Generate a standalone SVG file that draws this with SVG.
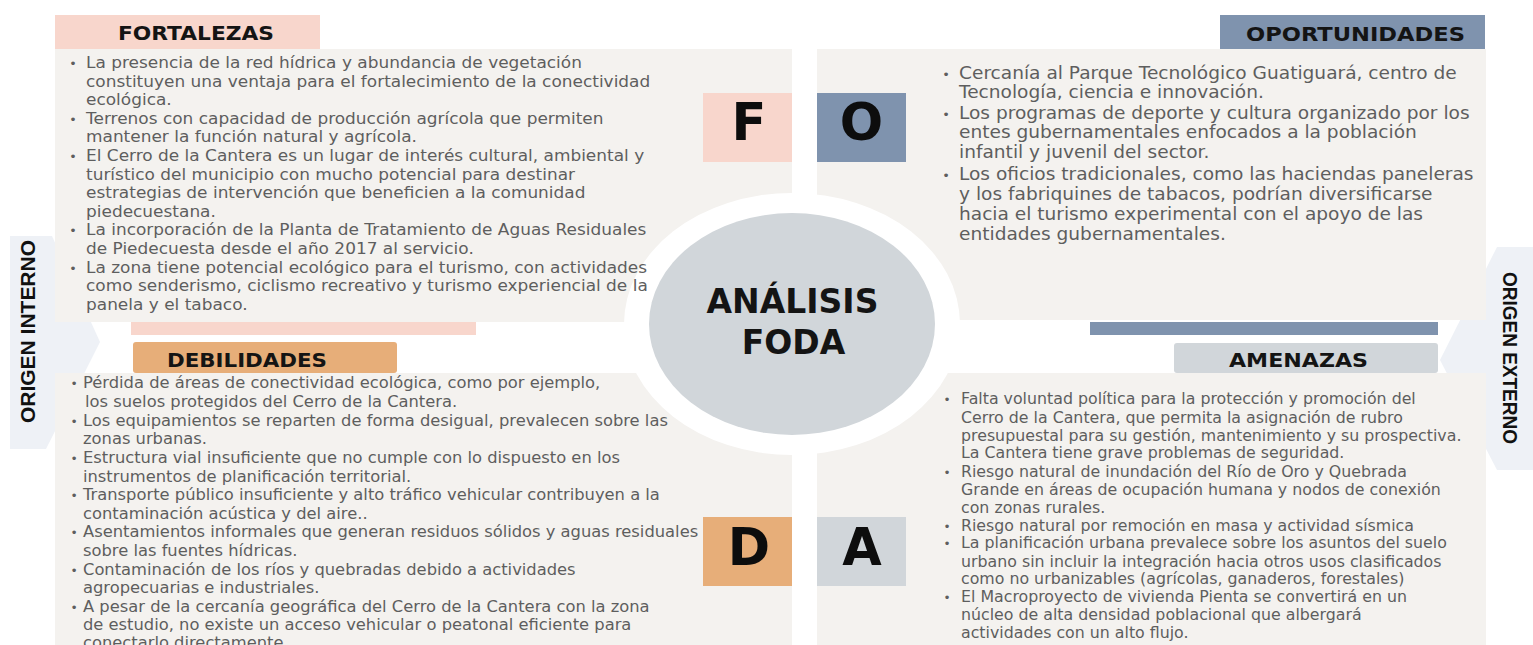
<svg xmlns="http://www.w3.org/2000/svg" width="1533" height="645" viewBox="0 0 1533 645">
  <style>
    .panel { fill: #f4f2ef; }
    .body { font-family: "DejaVu Sans", "Liberation Sans", sans-serif; fill: #5e5e5e; }
    .bul { font-size: 12px; text-anchor: middle; }
    .hdr { font-family: "DejaVu Sans", "Liberation Sans", sans-serif; font-weight: bold; font-size: 19px; fill: #141414; }
    .big { font-family: "DejaVu Sans", "Liberation Sans", sans-serif; font-weight: bold; font-size: 51px; fill: #0d0d0d; text-anchor: middle; }
    .title { font-family: "DejaVu Sans", "Liberation Sans", sans-serif; font-weight: bold; font-size: 33px; fill: #141414; text-anchor: middle; }
    .side { font-family: "Liberation Sans", Arial, sans-serif; font-weight: bold; font-size: 20.5px; fill: #111; text-anchor: middle; }
    .arrow { fill: #eef1f6; }
  </style>

  <rect width="1533" height="645" fill="#ffffff"/>

  <!-- side labels: internal / external origin -->
  <g id="origen-interno">
    <polygon class="arrow" points="10,236 52,236 100,342 46,449 10,449"/>
    <text class="side" transform="translate(35,331.5) rotate(-90)" textLength="183" lengthAdjust="spacingAndGlyphs">ORIGEN INTERNO</text>
  </g>
  <g id="origen-externo">
    <polygon class="arrow" points="1533,247 1497,247 1440,360 1497,470 1533,470"/>
    <text class="side" transform="translate(1503,358) rotate(90)" textLength="172" lengthAdjust="spacingAndGlyphs">ORIGEN EXTERNO</text>
  </g>

  <!-- quadrant backgrounds -->
  <g id="quadrant-panels">
    <rect class="panel" x="55" y="49" width="737" height="273"/>
    <rect class="panel" x="817" y="49" width="669" height="271"/>
    <rect class="panel" x="55" y="373" width="737" height="272"/>
    <rect class="panel" x="817" y="373" width="669" height="272"/>
    <rect x="131" y="322" width="345" height="13" fill="#f8d6cc"/>
    <rect x="1090" y="322" width="348" height="13" fill="#7f93ae"/>
  </g>

  <!-- centre hub -->
  <g id="analisis-foda">
    <ellipse cx="792" cy="324" rx="168" ry="131" fill="#ffffff"/>
    <ellipse cx="792" cy="324" rx="143" ry="111" fill="#d1d6da"/>
    <text class="title" x="792.5" y="313">ANÁLISIS</text>
    <text class="title" x="793.5" y="354">FODA</text>
  </g>

  <!-- F: strengths -->
  <g id="fortalezas">
    <rect x="55" y="15" width="265" height="34" fill="#f8d6cc"/>
    <text class="hdr" x="118" y="40" textLength="156" lengthAdjust="spacingAndGlyphs">FORTALEZAS</text>
    <rect x="703" y="93" width="89" height="69" fill="#f8d6cc"/>
    <text class="big" x="749" y="140">F</text>
    <g class="body" font-size="16" transform="translate(86,0) scale(1.06,1)">
      <text class="bul" x="-12.3" y="68">•</text>
      <text class="bul" x="-12.3" y="123.8">•</text>
      <text class="bul" x="-12.3" y="161">•</text>
      <text class="bul" x="-12.3" y="235.4">•</text>
      <text class="bul" x="-12.3" y="272.6">•</text>
      <text>
        <tspan x="0" y="68">La presencia de la red hídrica y abundancia de vegetación</tspan>
        <tspan x="0" y="86.6">constituyen una ventaja para el fortalecimiento de la conectividad</tspan>
        <tspan x="0" y="105.2">ecológica.</tspan>
        <tspan x="0" y="123.8">Terrenos con capacidad de producción agrícola que permiten</tspan>
        <tspan x="0" y="142.4">mantener la función natural y agrícola.</tspan>
        <tspan x="0" y="161">El Cerro de la Cantera es un lugar de interés cultural, ambiental y</tspan>
        <tspan x="0" y="179.6">turístico del municipio con mucho potencial para destinar</tspan>
        <tspan x="0" y="198.2">estrategias de intervención que beneficien a la comunidad</tspan>
        <tspan x="0" y="216.8">piedecuestana.</tspan>
        <tspan x="0" y="235.4">La incorporación de la Planta de Tratamiento de Aguas Residuales</tspan>
        <tspan x="0" y="254">de Piedecuesta desde el año 2017 al servicio.</tspan>
        <tspan x="0" y="272.6">La zona tiene potencial ecológico para el turismo, con actividades</tspan>
        <tspan x="0" y="291.2">como senderismo, ciclismo recreativo y turismo experiencial de la</tspan>
        <tspan x="0" y="309.8">panela y el tabaco.</tspan>
      </text>
    </g>
  </g>

  <!-- O: opportunities -->
  <g id="oportunidades">
    <rect x="1220" y="15" width="265" height="34" fill="#7f93ae"/>
    <text class="hdr" x="1246" y="41" textLength="219" lengthAdjust="spacingAndGlyphs">OPORTUNIDADES</text>
    <rect x="817" y="93" width="89" height="69" fill="#7f93ae"/>
    <text class="big" x="861.5" y="140">O</text>
    <g class="body" font-size="17.2" transform="translate(959,0) scale(1.08,1)">
      <text class="bul" x="-12" y="79.5">•</text>
      <text class="bul" x="-12" y="119.5">•</text>
      <text class="bul" x="-12" y="180.5">•</text>
      <text>
        <tspan x="0" y="79.5">Cercanía al Parque Tecnológico Guatiguará, centro de</tspan>
        <tspan x="0" y="98.5">Tecnología, ciencia e innovación.</tspan>
        <tspan x="0" y="119.5">Los programas de deporte y cultura organizado por los</tspan>
        <tspan x="0" y="138.5">entes gubernamentales enfocados a la población</tspan>
        <tspan x="0" y="158.5">infantil y juvenil del sector.</tspan>
        <tspan x="0" y="180.5">Los oficios tradicionales, como las haciendas paneleras</tspan>
        <tspan x="0" y="200.5">y los fabriquines de tabacos, podrían diversificarse</tspan>
        <tspan x="0" y="220.5">hacia el turismo experimental con el apoyo de las</tspan>
        <tspan x="0" y="240.5">entidades gubernamentales.</tspan>
      </text>
    </g>
  </g>

  <!-- D: weaknesses -->
  <g id="debilidades">
    <rect x="133" y="342" width="264" height="31" rx="3" fill="#e7ae79"/>
    <text class="hdr" x="167" y="367" textLength="160" lengthAdjust="spacingAndGlyphs">DEBILIDADES</text>
    <rect x="703" y="517" width="89" height="69" fill="#e7ae79"/>
    <text class="big" x="749" y="565">D</text>
    <g class="body" font-size="16" transform="translate(83,0) scale(1.02,1)">
      <text class="bul" x="-8.8" y="388">•</text>
      <text class="bul" x="-8.8" y="426">•</text>
      <text class="bul" x="-8.8" y="463">•</text>
      <text class="bul" x="-8.8" y="500">•</text>
      <text class="bul" x="-8.8" y="537">•</text>
      <text class="bul" x="-8.8" y="575">•</text>
      <text class="bul" x="-8.8" y="612">•</text>
      <text>
        <tspan x="0" y="388">Pérdida de áreas de conectividad ecológica, como por ejemplo,</tspan>
        <tspan x="2" y="407">los suelos protegidos del Cerro de la Cantera.</tspan>
        <tspan x="0" y="426">Los equipamientos se reparten de forma desigual, prevalecen sobre las</tspan>
        <tspan x="0" y="444">zonas urbanas.</tspan>
        <tspan x="0" y="463">Estructura vial insuficiente que no cumple con lo dispuesto en los</tspan>
        <tspan x="0" y="482">instrumentos de planificación territorial.</tspan>
        <tspan x="0" y="500">Transporte público insuficiente y alto tráfico vehicular contribuyen a la</tspan>
        <tspan x="0" y="519">contaminación acústica y del aire..</tspan>
        <tspan x="0" y="537">Asentamientos informales que generan residuos sólidos y aguas residuales</tspan>
        <tspan x="0" y="556">sobre las fuentes hídricas.</tspan>
        <tspan x="0" y="575">Contaminación de los ríos y quebradas debido a actividades</tspan>
        <tspan x="0" y="593">agropecuarias e industriales.</tspan>
        <tspan x="0" y="612">A pesar de la cercanía geográfica del Cerro de la Cantera con la zona</tspan>
        <tspan x="0" y="630">de estudio, no existe un acceso vehicular o peatonal eficiente para</tspan>
        <tspan x="0" y="648">conectarlo directamente.</tspan>
      </text>
    </g>
  </g>

  <!-- A: threats -->
  <g id="amenazas">
    <rect x="1174" y="343" width="264" height="30" rx="3" fill="#d1d6da"/>
    <text class="hdr" x="1229" y="367" textLength="139" lengthAdjust="spacingAndGlyphs">AMENAZAS</text>
    <rect x="817" y="517" width="89" height="69" fill="#d1d6da"/>
    <text class="big" x="862" y="565">A</text>
    <g class="body" font-size="15.8" transform="translate(961,0) scale(1.0,1)">
      <text class="bul" x="-14" y="404">•</text>
      <text class="bul" x="-14" y="477">•</text>
      <text class="bul" x="-14" y="531">•</text>
      <text class="bul" x="-14" y="548">•</text>
      <text class="bul" x="-14" y="602">•</text>
      <text>
        <tspan x="0" y="404">Falta voluntad política para la protección y promoción del</tspan>
        <tspan x="0" y="423">Cerro de la Cantera, que permita la asignación de rubro</tspan>
        <tspan x="0" y="441">presupuestal para su gestión, mantenimiento y su prospectiva.</tspan>
        <tspan x="0" y="458">La Cantera tiene grave problemas de seguridad.</tspan>
        <tspan x="0" y="477">Riesgo natural de inundación del Río de Oro y Quebrada</tspan>
        <tspan x="0" y="495">Grande en áreas de ocupación humana y nodos de conexión</tspan>
        <tspan x="0" y="513">con zonas rurales.</tspan>
        <tspan x="0" y="531">Riesgo natural por remoción en masa y actividad sísmica</tspan>
        <tspan x="0" y="548">La planificación urbana prevalece sobre los asuntos del suelo</tspan>
        <tspan x="0" y="567">urbano sin incluir la integración hacia otros usos clasificados</tspan>
        <tspan x="0" y="584">como no urbanizables (agrícolas, ganaderos, forestales)</tspan>
        <tspan x="0" y="602">El Macroproyecto de vivienda Pienta se convertirá en un</tspan>
        <tspan x="0" y="620">núcleo de alta densidad poblacional que albergará</tspan>
        <tspan x="0" y="638">actividades con un alto flujo.</tspan>
      </text>
    </g>
  </g>
</svg>
